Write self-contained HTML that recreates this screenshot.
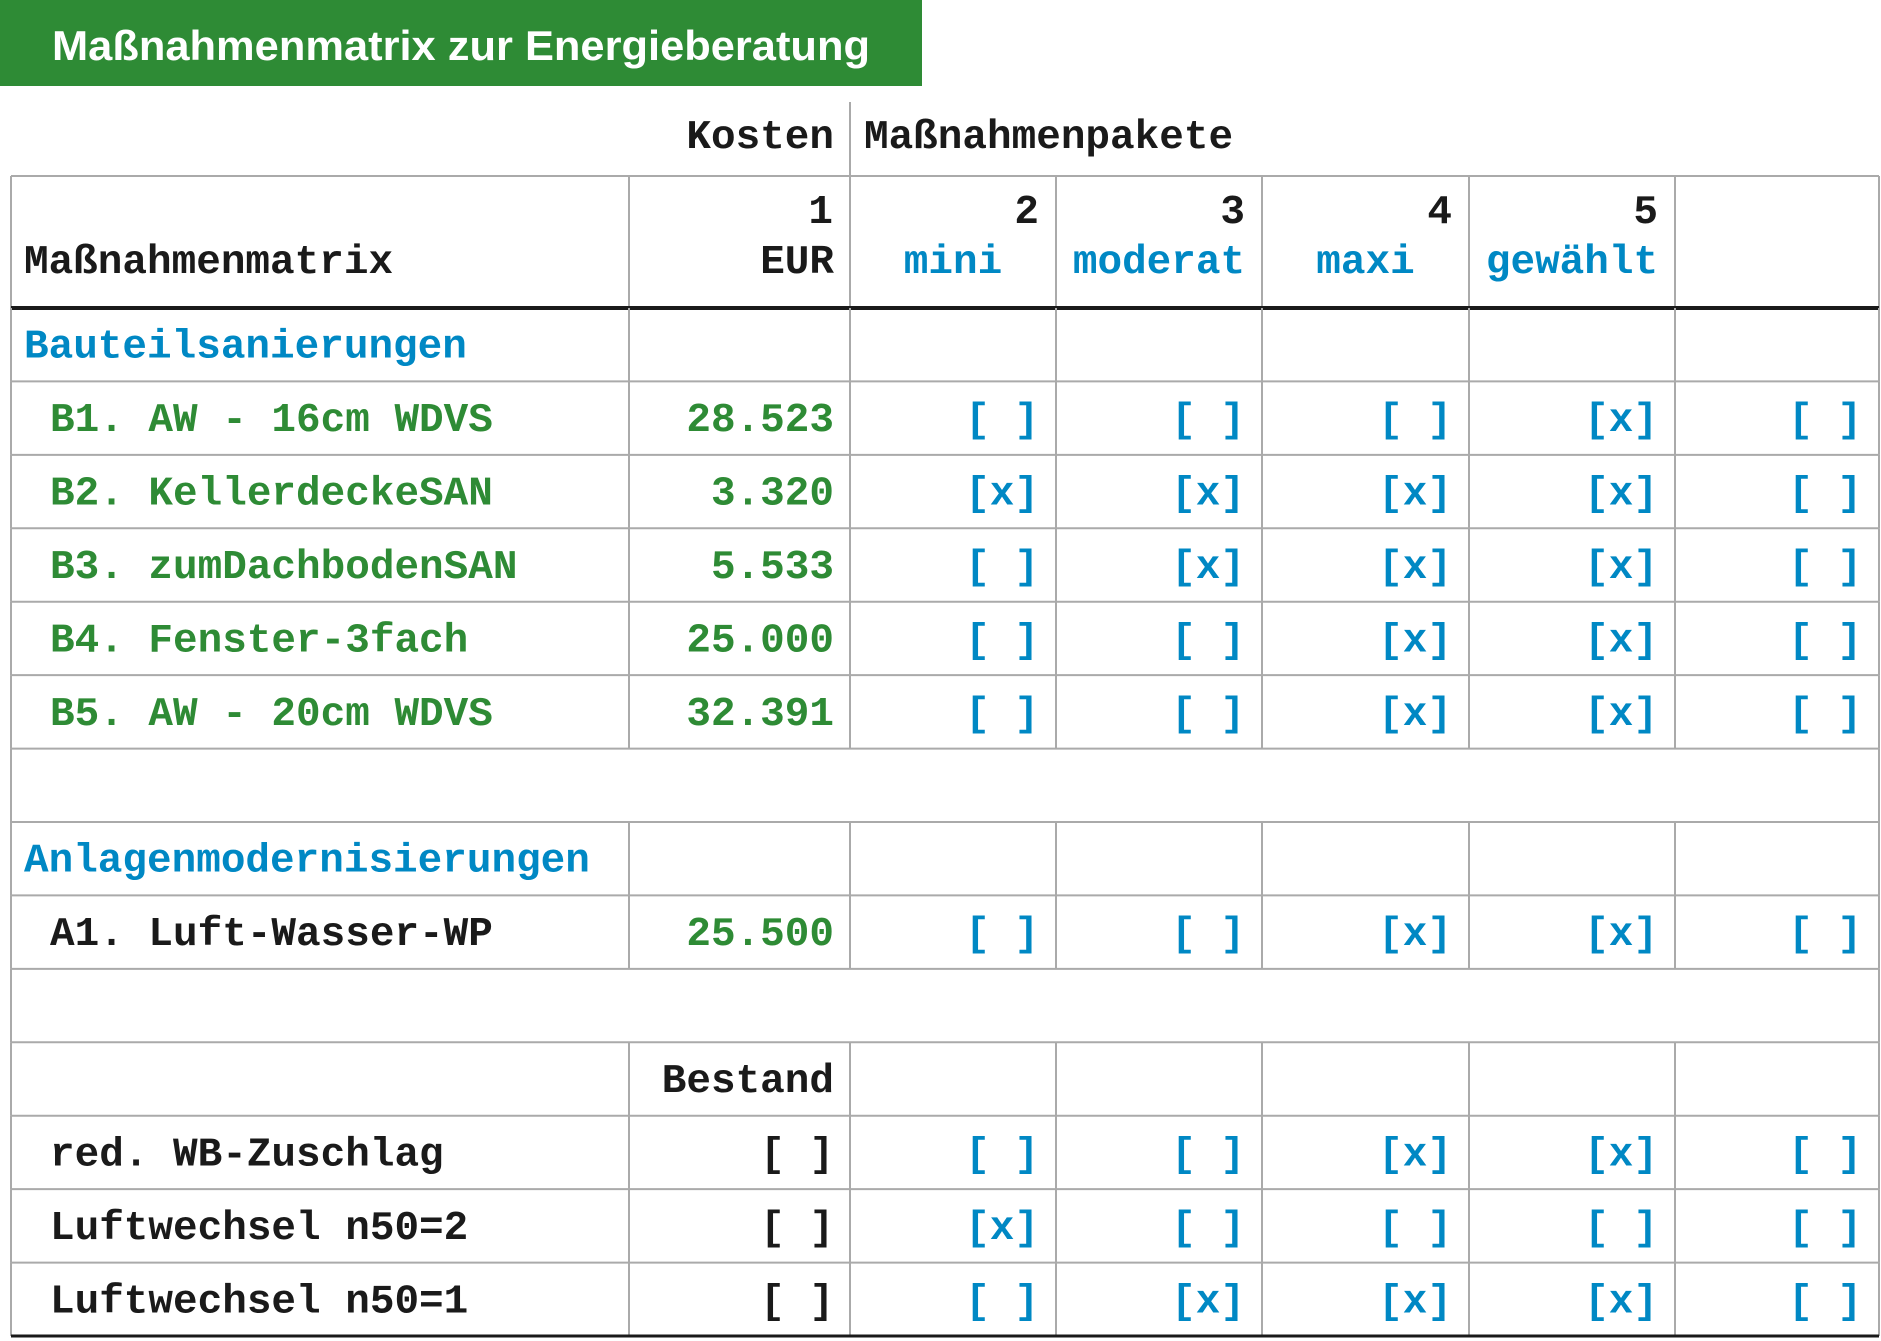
<!DOCTYPE html>
<html><head><meta charset="utf-8"><style>
html,body{margin:0;padding:0;background:#fff;}
svg{display:block}
text{font-family:"Liberation Mono",monospace;font-weight:bold;font-size:41px;}
</style></head><body>
<svg id="s" width="1881" height="1341" viewBox="0 0 1881 1341" xmlns="http://www.w3.org/2000/svg">
<rect x="0" y="0" width="922" height="86" fill="#2e8b35"/>
<text x="52" y="60" fill="#fff" style="font-family:'Liberation Sans',sans-serif;font-size:42px" textLength="818" lengthAdjust="spacingAndGlyphs">Maßnahmenmatrix zur Energieberatung</text>
</svg>
<script>
const packageNumbers = ["1","2","3","4","5"];
const packageNames = ["mini","moderat","maxi","gewählt",""];
const rowLabels = ["Bauteilsanierungen","B1. AW - 16cm WDVS","B2. KellerdeckeSAN","B3. zumDachbodenSAN","B4. Fenster-3fach","B5. AW - 20cm WDVS","","Anlagenmodernisierungen","A1. Luft-Wasser-WP","","","red. WB-Zuschlag","Luftwechsel n50=2","Luftwechsel n50=1"];
const rowTypes = ["section","green","green","green","green","green","empty","section","black","empty","bestand","black","black","black"];
const costs = ["","28.523","3.320","5.533","25.000","32.391","","","25.500","","Bestand","[ ]","[ ]","[ ]"];
const marks = [null,
 ["[ ]","[ ]","[ ]","[x]","[ ]"],
 ["[x]","[x]","[x]","[x]","[ ]"],
 ["[ ]","[x]","[x]","[x]","[ ]"],
 ["[ ]","[ ]","[x]","[x]","[ ]"],
 ["[ ]","[ ]","[x]","[x]","[ ]"],
 null,null,
 ["[ ]","[ ]","[x]","[x]","[ ]"],
 null,null,
 ["[ ]","[ ]","[x]","[x]","[ ]"],
 ["[x]","[ ]","[ ]","[ ]","[ ]"],
 ["[ ]","[x]","[x]","[x]","[ ]"]];

const svg=document.getElementById('s');
const NS="http://www.w3.org/2000/svg";
const colX=[11,629,850,1056,1262,1469,1675,1879];
const top0=308, rh=(1336-308)/14;
const BLUE="#0088c4", GREEN="#2e8b35", BLACK="#1a1a1a", GRID="#aaaaaa";
function line(x1,y1,x2,y2,c,w,name){const l=document.createElementNS(NS,'line');l.setAttribute('x1',x1);l.setAttribute('y1',y1);l.setAttribute('x2',x2);l.setAttribute('y2',y2);l.setAttribute('stroke',c);l.setAttribute('stroke-width',w);


svg.appendChild(l);}
function txt(x,y,s,c,anchor,name){const t=document.createElementNS(NS,'text');t.setAttribute('x',x);t.setAttribute('y',y);t.setAttribute('fill',c);t.setAttribute('text-anchor',anchor);t.textContent=s;


svg.appendChild(t);return t;}

// header
line(850,102,850,176,GRID,2,'header-divider');
txt(834,148,"Kosten",BLACK,"end",'kosten-header');
txt(864,148,"Maßnahmenpakete",BLACK,"start",'packages-header');
line(11,176,1879,176,GRID,2,'header-top-line');
for(const x of colX) line(x,176,x,308,GRID,2,'header-col-line');
txt(24,273,"Maßnahmenmatrix",BLACK,"start",'matrix-header');
txt(834,273,"EUR",BLACK,"end",'eur-header');
packageNumbers.forEach((n,i)=>{
  txt(colX[i+2]-17,223,n,BLACK,"end",'package-number');
  if(packageNames[i]) txt((colX[i+2]+colX[i+3])/2,273,packageNames[i],BLUE,"middle",'package-name');
});
line(11,308,1879,308,BLACK,4,'header-bottom-line');

rowLabels.forEach((lab,r)=>{
  const y0=top0+r*rh, y1=y0+rh, by=y0+rh/2+13, type=rowTypes[r];
  line(colX[0],y0,colX[0],y1,GRID,2,'row-left-border');
  line(colX[7],y0,colX[7],y1,GRID,2,'row-right-border');
  if(type!=="empty"){for(let i=1;i<7;i++) line(colX[i],y0,colX[i],y1,GRID,2,'row-col-line');}
  line(11,y1,1879,y1,r===13?BLACK:GRID,r===13?3:2,'row-line');
  if(lab){
    const c=type==="section"?BLUE:type==="green"?GREEN:BLACK;
    txt(type==="section"?24:50,by,lab,c,"start",'row-label');
  }
  if(costs[r]){
    const c=(type==="green"||r===8)?GREEN:BLACK;
    txt(834,by,costs[r],c,"end",'cost-value');
  }
  if(marks[r]) marks[r].forEach((m,i)=>txt(colX[i+3]-17,by,m,BLUE,"end",'package-checkbox'));
});
</script>
</body></html>
